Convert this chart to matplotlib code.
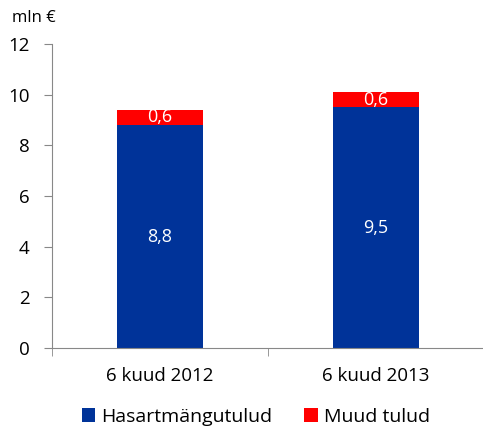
import numpy as np
import matplotlib.pyplot as plt

categories = ['6 kuud 2012', '6 kuud 2013']
gambling = [8.8, 9.5]
other = [0.6, 0.6]
series_names = ['Hasartmängutulud', 'Muud tulud']
y_ticks = [0, 2, 4, 6, 8, 10, 12]

plt.rcParams['font.family'] = ['Open Sans', 'DejaVu Sans']

fig = plt.figure(figsize=(4.83, 4.28), dpi=100)
ax = fig.add_axes([52 / 483, 1 - 348 / 428, 432 / 483, 304 / 428])

x = np.arange(len(categories))
blue = '#003399'
red = '#ff0000'
ax.bar(x, gambling, width=0.4, color=blue, label=series_names[0])
ax.bar(x, other, width=0.4, bottom=gambling, color=red, label=series_names[1])

for xi, g, o in zip(x, gambling, other):
    ax.text(xi, g / 2, f'{g:.1f}'.replace('.', ','), ha='center', va='center',
            color='white', fontsize=13)
    ax.text(xi, g + o / 2, f'{o:.1f}'.replace('.', ','), ha='center', va='center',
            color='white', fontsize=13)

ax.set_xlim(-0.5, len(categories) - 0.5)
ax.set_ylim(0, 12)
ax.set_yticks(y_ticks)
ax.tick_params(axis='y', labelsize=13.5, color='#888888', length=6, pad=10)
ax.set_xticks(x)
ax.set_xticklabels(categories, fontsize=13.5)
ax.tick_params(axis='x', length=0, pad=14)
ax.set_xticks(np.arange(len(categories) + 1) - 0.5, minor=True)
ax.tick_params(axis='x', which='minor', length=6, color='#888888')

for s in ['top', 'right']:
    ax.spines[s].set_visible(False)
for s in ['left', 'bottom']:
    ax.spines[s].set_color('#888888')

fig.text(12 / 483, 1 - 18 / 428, 'mln €', fontsize=12, va='center', ha='left')

ax.legend(loc='center', bbox_to_anchor=(0.472, -0.227), ncol=2, frameon=False,
          fontsize=14, handlelength=0.7, handleheight=0.7, handletextpad=0.3,
          columnspacing=1.65)

fig.savefig('out.png', dpi=100)
